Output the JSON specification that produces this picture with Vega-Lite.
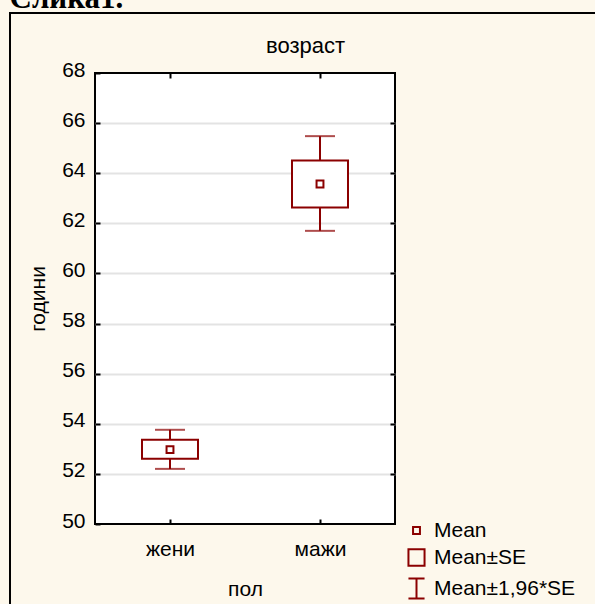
{
  "$schema": "https://vega.github.io/schema/vega-lite/v6.json",
  "width": 300,
  "height": 451,
  "autosize": "none",
  "padding": {"left": 95, "top": 73, "right": 200, "bottom": 80},
  "background": "#FDF8EC",
  "data": {
    "values": [
      {"sex": "жени", "stat": "Mean", "mean": 52.97, "se_lo": 52.6, "se_hi": 53.36, "ci_lo": 52.2, "ci_hi": 53.76},
      {"sex": "мажи", "stat": "Mean", "mean": 63.57, "se_lo": 62.63, "se_hi": 64.51, "ci_lo": 61.7, "ci_hi": 65.48}
    ]
  },
  "layer": [
    {
      "mark": {"type": "rule", "strokeWidth": 2},
      "encoding": {
        "x": {
          "field": "sex", "type": "nominal", "sort": null,
          "scale": {"type": "point", "padding": 0.5},
          "axis": {"orient": "bottom", "title": "пол", "labelAngle": 0, "labelPadding": 19, "titlePadding": 19, "grid": false}
        },
        "y": {
          "field": "ci_lo", "type": "quantitative",
          "scale": {"domain": [50, 68], "nice": false, "zero": false},
          "axis": {"orient": "left", "values": [50, 52, 54, 56, 58, 60, 62, 64, 66, 68], "title": "години", "grid": false, "labelPadding": 15, "titlePadding": 13, "labelOffset": -3}
        },
        "y2": {"field": "ci_hi"},
        "color": {
          "field": "mean", "type": "quantitative",
          "scale": {"range": ["#8B0000", "#8B0000"]},
          "legend": {
            "type": "gradient", "direction": "vertical", "orient": "none",
            "legendX": -85, "legendY": -60,
            "gradientLength": 593, "gradientThickness": 587,
            "gradientStrokeColor": "black", "gradientStrokeWidth": 2,
            "title": null, "labelExpr": "''", "padding": 0,
            "encode": {"gradient": {"update": {"fillOpacity": {"value": 0}}}}
          }
        }
      }
    },
    {
      "mark": {"type": "bar", "width": 56, "fill": "white", "stroke": "#8B0000", "strokeWidth": 2},
      "encoding": {
        "x": {
          "field": "sex", "type": "nominal", "sort": null,
          "scale": {"type": "point", "padding": 0.5},
          "axis": {"orient": "top", "labels": false, "title": "возраст", "titleX": 210, "titleY": -21, "titleBaseline": "alphabetic", "titleAlign": "center", "titleFontSize": 22, "grid": false}
        },
        "y": {
          "field": "se_lo", "type": "quantitative",
          "axis": {"orient": "right", "labels": false, "title": null, "values": [52, 54, 56, 58, 60, 62, 64, 66], "grid": true}
        },
        "y2": {"field": "se_hi"}
      }
    },
    {
      "mark": {"type": "tick", "color": "#8B0000", "thickness": 2, "size": 30},
      "encoding": {
        "x": {
          "field": "sex", "type": "nominal", "sort": null,
          "axis": {"orient": "top", "labels": false, "ticks": false, "grid": false, "title": "Слика1.", "titleX": -86, "titleY": -66, "titleAlign": "left", "titleBaseline": "alphabetic", "titleFont": "Liberation Serif", "titleFontWeight": "bold", "titleFontSize": 31}
        },
        "y": {"field": "ci_lo", "type": "quantitative", "axis": null}
      }
    },
    {
      "mark": {"type": "tick", "color": "#8B0000", "thickness": 2, "size": 30},
      "encoding": {
        "x": {"field": "sex", "type": "nominal", "sort": null, "axis": null},
        "y": {"field": "ci_hi", "type": "quantitative", "axis": null}
      }
    },
    {
      "mark": {"type": "point", "filled": false, "color": "#8B0000", "strokeWidth": 2, "size": 529, "opacity": 1},
      "encoding": {
        "x": {"field": "sex", "type": "nominal", "sort": null, "axis": null},
        "y": {"field": "mean", "type": "quantitative", "axis": null},
        "shape": {
          "field": "stat", "type": "nominal",
          "scale": {
            "domain": ["Mean", "Mean±SE", "Mean±1,96*SE"],
            "range": ["M-0.3,-0.3H0.3V0.3H-0.3Z", "M-0.7,-0.71H0.7V0.71H-0.7Z", "M-0.7,-0.87H0.7M0,-0.87V0.87M-0.7,0.87H0.7"]
          },
          "legend": {
            "orient": "none", "legendX": 309, "legendY": 445, "title": null,
            "symbolSize": 529, "symbolStrokeWidth": 2, "symbolStrokeColor": "#8B0000", "symbolFillColor": "transparent",
            "labelFont": "Liberation Sans", "labelFontSize": 21, "labelColor": "black", "labelOffset": 5, "rowPadding": 4, "padding": 0
          }
        }
      }
    }
  ],
  "resolve": {"axis": {"x": "independent", "y": "independent"}},
  "config": {
    "view": {"fill": "white", "stroke": "black", "strokeWidth": 2},
    "font": "Liberation Sans",
    "axis": {
      "domain": false,
      "labelFont": "Liberation Sans", "labelFontSize": 21, "labelColor": "black",
      "titleFont": "Liberation Sans", "titleFontSize": 21, "titleFontWeight": "normal", "titleColor": "black",
      "tickColor": "black", "tickWidth": 2, "tickSize": -5,
      "gridColor": "#E3E3E3", "gridWidth": 2
    }
  }
}
